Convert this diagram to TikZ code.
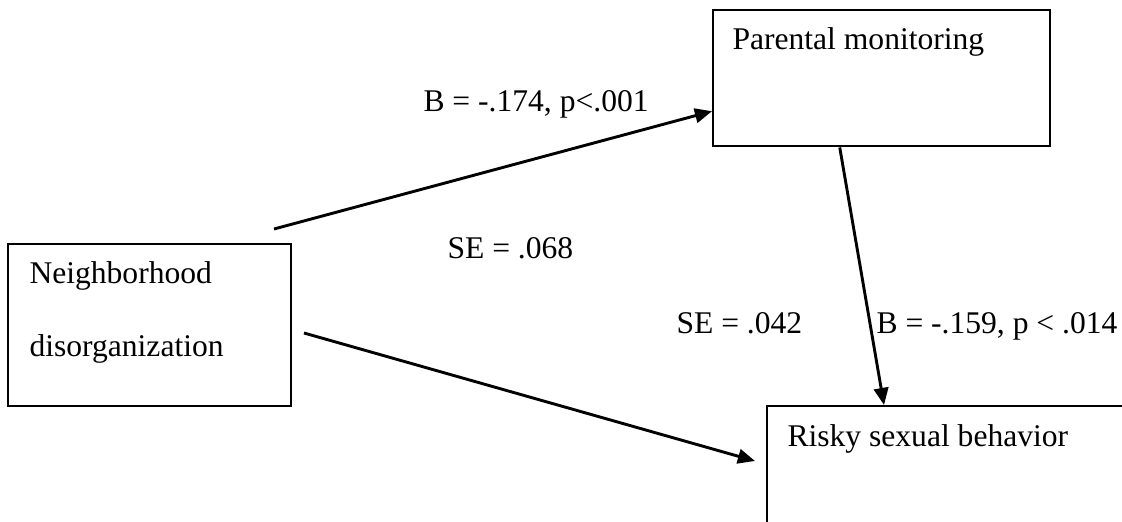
\documentclass[tikz,border=0pt]{standalone}
\usepackage{fontspec}
\setmainfont{Liberation Serif}
\usetikzlibrary{arrows.meta,positioning,calc}

\begin{document}
\begin{tikzpicture}[
  x=0.38pt, y=-0.38pt,
  every node/.style={font=\fontsize{12}{14}\selectfont},
  var/.style={draw, line width=0.9pt, rectangle, anchor=north west, inner sep=0pt},
  lbl/.style={anchor=base west, inner sep=0pt},
  path/.style={-{Triangle[length=6.5pt,width=5.5pt]}, line width=1.1pt},
  >=Stealth
]
  \clip (0,0) rectangle (1122,522);

  \node[var, minimum width=128.1pt, minimum height=51.7pt] (pm) at (712,9) {};
  \node[var, minimum width=107.5pt, minimum height=61.6pt] (nd) at (7,243) {};
  \node[var, minimum width=160pt, minimum height=60pt] (rs) at (766,405) {};

  \node[lbl] (pmt) at ([shift={(20,41)}]pm.north west) {Parental monitoring};
  \node[lbl] (ndt1) at ([shift={(22,40)}]nd.north west) {Neighborhood};
  \node[lbl] (ndt2) at ([shift={(0,73)}]ndt1.base west) {disorganization};
  \node[lbl] (rst) at ([shift={(21,41)}]rs.north west) {Risky sexual behavior};

  \coordinate (a1) at (274,229);
  \coordinate (a3) at (304,333);
  \coordinate (a3e) at (755,461);
  \draw[path] (a1) -- ([shift={(0,33)}]pm.west);
  \draw[path] ([shift={(-42,0)}]pm.south) -- ([shift={(118,0)}]rs.north west);
  \draw[path] (a3) -- (a3e);

  \node[lbl] (l1) at (423,112) {B = -.174, p<.001};
  \node[lbl] (l2) at (447,258) {SE = .068};
  \node[lbl] (l3) at (676,333) {SE = .042};
  \node[lbl] (l4) at (876,333) {B = -.159, p < .014};
\end{tikzpicture}
\end{document}
